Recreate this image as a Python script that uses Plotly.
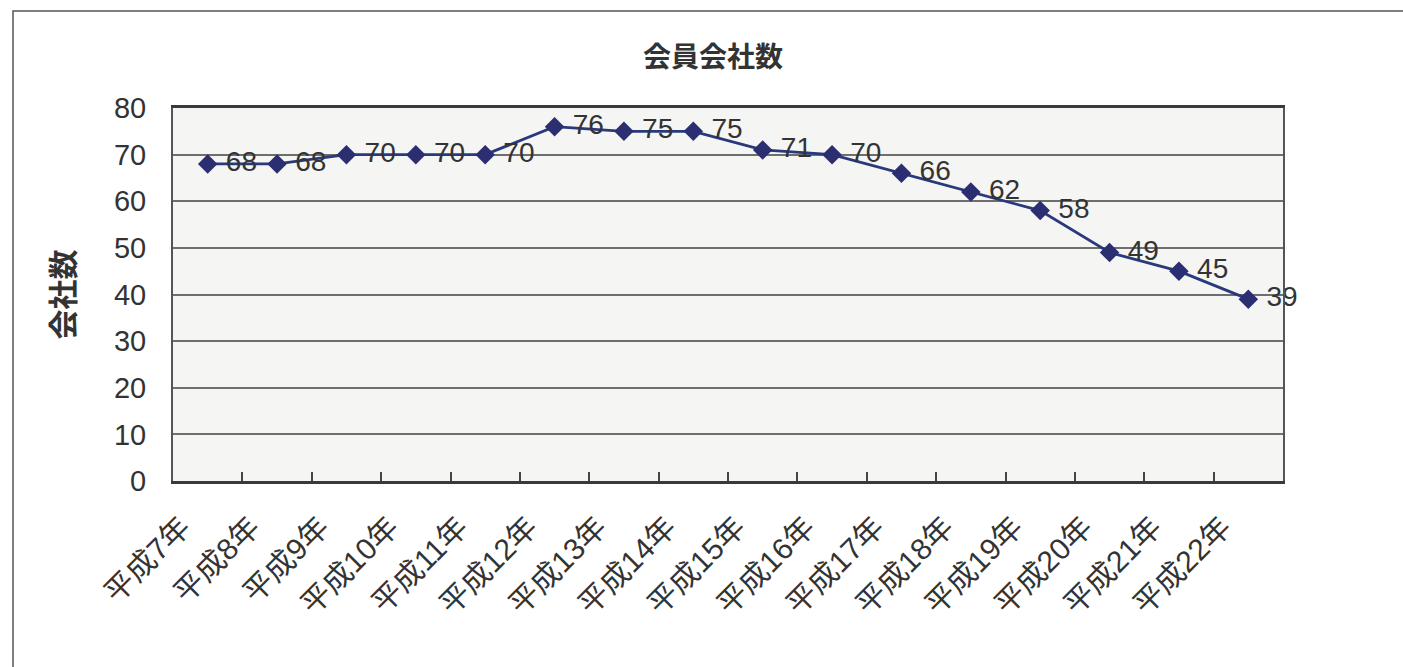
import plotly.graph_objects as go

# 会員会社数の推移（平成7年〜平成22年）
years = ["平成7年", "平成8年", "平成9年", "平成10年", "平成11年", "平成12年",
         "平成13年", "平成14年", "平成15年", "平成16年", "平成17年", "平成18年",
         "平成19年", "平成20年", "平成21年", "平成22年"]
members = [68, 68, 70, 70, 70, 76, 75, 75, 71, 70, 66, 62, 58, 49, 45, 39]
y_ticks = [0, 10, 20, 30, 40, 50, 60, 70, 80]

W, H = 1403, 667
L, R, T, B = 173, 120, 108, 186

NUM_FONT = "Liberation Sans, Arial, Noto Sans CJK JP, sans-serif"
CJK_FONT = "Liberation Sans, Noto Sans CJK JP, sans-serif"
TEXT = "#333333"

fig = go.Figure()
fig.add_trace(go.Scatter(
    x=years,
    y=members,
    mode="lines+markers+text",
    line=dict(color="#28397c", width=2.8),
    marker=dict(symbol="diamond", size=15, color="#2b2f72",
                line=dict(color="#2b2f72", width=0)),
    # non-breaking space keeps a small gap between marker and value label
    text=["\u00a0" + str(v) for v in members],
    textposition="middle right",
    textfont=dict(family=NUM_FONT, size=28, color=TEXT),
    cliponaxis=False,
    showlegend=False,
))

# outer chart frame (extends past the right and bottom page edges)
pw, ph = W - L - R, H - T - B
def px_x(p):
    return (p - L) / pw
def px_y(p):
    return (H - B - p) / ph

fig.add_shape(type="rect", xref="paper", yref="paper",
              x0=px_x(13), x1=px_x(W + 10), y0=px_y(H + 10), y1=px_y(11),
              line=dict(color="#555555", width=1.5), fillcolor="rgba(0,0,0,0)",
              layer="below")

fig.update_layout(
    width=W, height=H,
    margin=dict(l=L, r=R, t=T, b=B, pad=0),
    paper_bgcolor="white",
    plot_bgcolor="#f5f5f3",
    title=dict(text="<b>会員会社数</b>", x=713 / W, xanchor="center",
               y=1 - 57 / H, yanchor="middle",
               font=dict(family=CJK_FONT, size=28, color=TEXT)),
    xaxis=dict(
        type="category",
        range=[-0.5, len(years) - 0.5],
        tickson="boundaries",
        ticks="inside", ticklen=9, tickwidth=1.5, tickcolor="#444444",
        tickangle=-45,
        tickfont=dict(family=CJK_FONT, size=30, color=TEXT),
        ticklabelstandoff=14,
        ticklabelshift=-26,
        showline=True, linecolor="#3a3a3a", linewidth=2.5, mirror=True,
        showgrid=False,
    ),
    yaxis=dict(
        range=[0, 80],
        tickvals=y_ticks,
        ticktext=[str(v) for v in y_ticks],
        tickfont=dict(family=NUM_FONT, size=29, color=TEXT),
        ticklabelstandoff=19,
        showline=True, linecolor="#555555", linewidth=2, mirror=True,
        showgrid=True, gridcolor="#6e6e6e", gridwidth=1.5,
        zeroline=False,
        title=dict(text="<b>会社数</b>", standoff=30,
                   font=dict(family=CJK_FONT, size=30, color=TEXT)),
    ),
)

fig.write_html("out.html")
